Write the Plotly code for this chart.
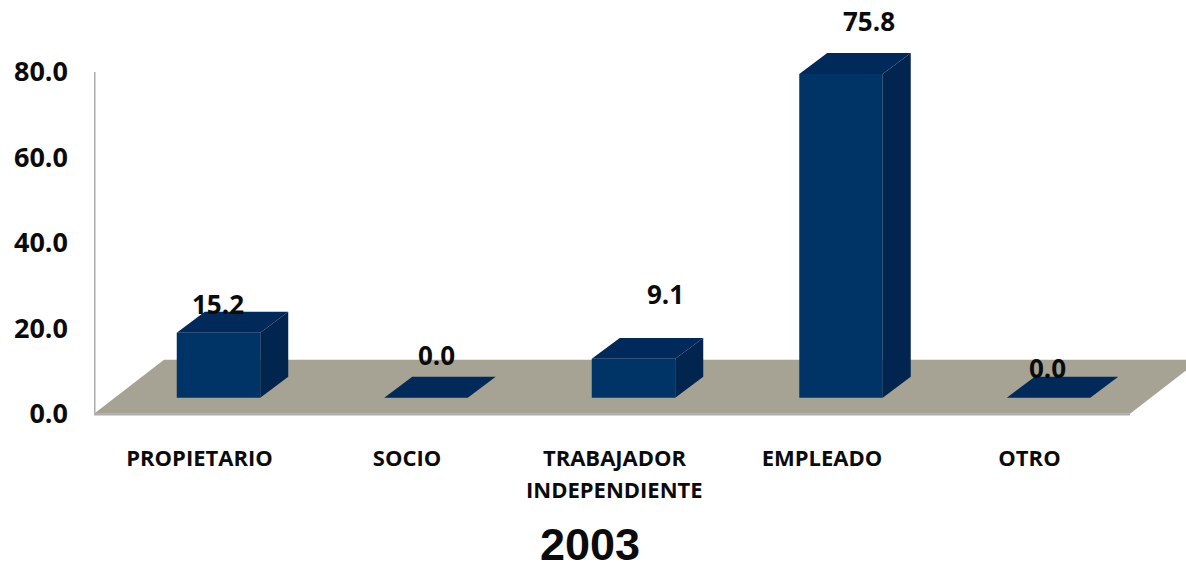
import plotly.graph_objects as go

categories = ["PROPIETARIO", "SOCIO", "TRABAJADOR", "EMPLEADO", "OTRO"]
second_lines = ["", "", "INDEPENDIENTE", "", ""]
values = [15.2, 0.0, 9.1, 75.8, 0.0]
value_labels = ["15.2", "0.0", "9.1", "75.8", "0.0"]
y_ticks = [0, 20, 40, 60, 80]
y_tick_labels = ["0.0", "20.0", "40.0", "60.0", "80.0"]
chart_title = "2003"

# Layout geometry (pixels)
W, H = 1186, 573
AXIS_X, ZERO_Y = 94, 414
CAT0_X, CAT_STEP = 218.5, 207.5
PX_PER_UNIT = 4.275
BOTTOM_PAD = 1.0

x_lo = (AXIS_X - CAT0_X) / CAT_STEP
x_hi = (W - CAT0_X) / CAT_STEP
y_hi = ZERO_Y / PX_PER_UNIT

BAR_W = 83.5 / CAT_STEP
LIFT = 16 / PX_PER_UNIT
DEPTH_X = 28 / CAT_STEP
DEPTH_Y = 21 / PX_PER_UNIT
FLOOR_RIGHT = (1130 - CAT0_X) / CAT_STEP
FLOOR_DX = 70 / CAT_STEP
FLOOR_DY = 54 / PX_PER_UNIT
LABEL_X = -19 / CAT_STEP

FRONT, TOP, SIDE = "#003366", "#01295a", "#01254f"
FLOOR, AXIS = "#a6a394", "#adadad"
INK = "#0b0b0b"
FONT = "Open Sans"

xs = list(range(len(categories)))

top_x, top_y, side_x, side_y = [], [], [], []
for i, v in zip(xs, values):
    l, r = i - BAR_W / 2, i + BAR_W / 2
    t, b = v + LIFT, LIFT
    top_x += [l, r, r + DEPTH_X, l + DEPTH_X, l, None]
    top_y += [t, t, t + DEPTH_Y, t + DEPTH_Y, t, None]
    side_x += [r, r + DEPTH_X, r + DEPTH_X, r, r, None]
    side_y += [b, b + DEPTH_Y, t + DEPTH_Y, t, b, None]

fig = go.Figure()
fig.add_trace(go.Bar(x=xs, y=values, base=LIFT, width=BAR_W,
                     marker=dict(color=FRONT, line=dict(width=0)), hoverinfo="skip"))
fig.add_trace(go.Scatter(x=top_x, y=top_y, mode="lines", fill="toself", fillcolor=TOP,
                         line=dict(width=0, color=TOP), hoverinfo="skip"))
fig.add_trace(go.Scatter(x=side_x, y=side_y, mode="lines", fill="toself", fillcolor=SIDE,
                         line=dict(width=0, color=SIDE), hoverinfo="skip"))

# Floor and axis wall sit beneath the bars
fig.add_shape(type="path", layer="below", line=dict(width=0), fillcolor=FLOOR,
              path=f"M {x_lo} 0 L {FLOOR_RIGHT} 0 L {FLOOR_RIGHT + FLOOR_DX} {FLOOR_DY} "
                   f"L {x_lo + FLOOR_DX} {FLOOR_DY} Z")
fig.add_shape(type="line", layer="below", x0=x_lo, x1=FLOOR_RIGHT, y0=-0.2, y1=-0.2,
              line=dict(color=AXIS, width=2))
fig.add_shape(type="line", layer="below", x0=x_lo, x1=x_lo, y0=0, y1=y_ticks[-1],
              line=dict(color=AXIS, width=3))

# Value labels: pixel offset from each bar's top
label_dx = [-1, 10, 32, 28, -1]
label_dy = [29, 43, 65, 53, 30]
for i, v, txt, dx, dy in zip(xs, values, value_labels, label_dx, label_dy):
    fig.add_annotation(x=i, y=v + LIFT, text=f"<b>{txt}</b>", showarrow=False,
                       xshift=dx, yshift=dy,
                       font=dict(family=FONT, size=26, color=INK))

for i, extra in zip(xs, second_lines):
    if extra:
        fig.add_annotation(x=i + LABEL_X, y=0, text=f"<b>{extra}</b>", showarrow=False,
                           yshift=-75, font=dict(family=FONT, size=22, color=INK))

fig.add_annotation(xref="paper", yref="paper", x=0.454, y=0, yanchor="bottom", yshift=-154,
                   text=f"<b>{chart_title}</b>", showarrow=False,
                   font=dict(family="Liberation Sans", size=45, color=INK))

fig.update_layout(
    width=W, height=H, showlegend=False, barmode="overlay",
    paper_bgcolor="white", plot_bgcolor="white",
    margin=dict(l=AXIS_X, r=0, t=0, b=H - ZERO_Y - BOTTOM_PAD * PX_PER_UNIT, pad=0),
    xaxis=dict(range=[x_lo, x_hi], tickmode="array", showgrid=False, zeroline=False,
               tickvals=[i + LABEL_X for i in xs],
               ticktext=[f"<b>{c}</b>" for c in categories],
               ticks="", showline=False, ticklabelstandoff=25,
               tickfont=dict(family=FONT, size=22, color=INK)),
    yaxis=dict(range=[-BOTTOM_PAD, y_hi], tickmode="array", showgrid=False, zeroline=False,
               tickvals=y_ticks, ticktext=[f"<b>{t}</b>" for t in y_tick_labels],
               ticks="", showline=False, ticklabelstandoff=25,
               tickfont=dict(family=FONT, size=27, color=INK)),
)

fig.write_html("out.html", config={"displayModeBar": False},
               post_script="document.body.style.margin='0';")
